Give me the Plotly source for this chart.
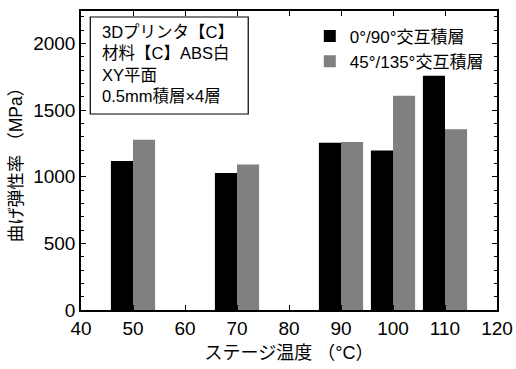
import plotly.graph_objects as go

# Stage temperature (°C) and flexural modulus (MPa) for each stacking pattern
temps = [50, 70, 90, 100, 110]
mod_0_90 = [1118, 1028, 1255, 1198, 1758]
mod_45_135 = [1278, 1093, 1261, 1608, 1358]
series_names = ["0°/90°交互積層", "45°/135°交互積層"]
info_lines = ["3Dプリンタ【C】", "材料【C】ABS白", "XY平面", "0.5mm積層×4層"]

FONT = "Liberation Sans, Arial, Noto Sans CJK JP"

fig = go.Figure()
fig.add_trace(go.Bar(x=temps, y=mod_0_90, name=series_names[0],
                     marker=dict(color="#000000", line=dict(width=0))))
fig.add_trace(go.Bar(x=temps, y=mod_45_135, name=series_names[1],
                     marker=dict(color="#808080", line=dict(width=0))))

axis_common = dict(
    showline=True, linecolor="black", linewidth=1.5, mirror="ticks",
    ticks="inside", ticklen=5, tickwidth=1.2, tickcolor="black",
    showgrid=False, zeroline=False, automargin=False,
    tickfont=dict(family=FONT, size=19, color="black"),
)

fig.update_layout(
    width=516, height=369,
    margin=dict(l=81, r=19, t=11, b=59),
    paper_bgcolor="white", plot_bgcolor="white",
    barmode="group", bargap=0.15, bargroupgap=0,
    font=dict(family=FONT, color="black"),
    xaxis=dict(range=[40, 120], tickvals=list(range(40, 121, 10)),
               title=dict(text="ステージ温度 （°C）", font=dict(family=FONT, size=18), standoff=9),
               **axis_common),
    yaxis=dict(range=[0, 2245], tickvals=[0, 500, 1000, 1500, 2000],
               minor=dict(dtick=100, ticks="inside", ticklen=3, tickcolor="black"),
               title=dict(text="曲げ弾性率 （MPa）", font=dict(family=FONT, size=17.5), standoff=6),
               **axis_common),
    legend=dict(x=0.55, y=0.975, xanchor="left", yanchor="top",
                bgcolor="rgba(0,0,0,0)", borderwidth=0,
                font=dict(family=FONT, size=17, color="black"),
                itemwidth=30, tracegroupgap=0),
    showlegend=True,
)

# Info box in the upper-left corner of the plot area
fig.add_shape(type="rect", xref="paper", yref="paper",
              x0=0.0223, x1=0.402, y0=0.6555, y1=0.98,
              line=dict(color="black", width=1.2), fillcolor="white")
fig.add_annotation(xref="paper", yref="paper", x=0.045, y=0.965,
                   xanchor="left", yanchor="top", align="left", showarrow=False,
                   text="<br>".join(info_lines),
                   font=dict(family=FONT, size=16.5, color="black"))

fig.write_html("out.html")
